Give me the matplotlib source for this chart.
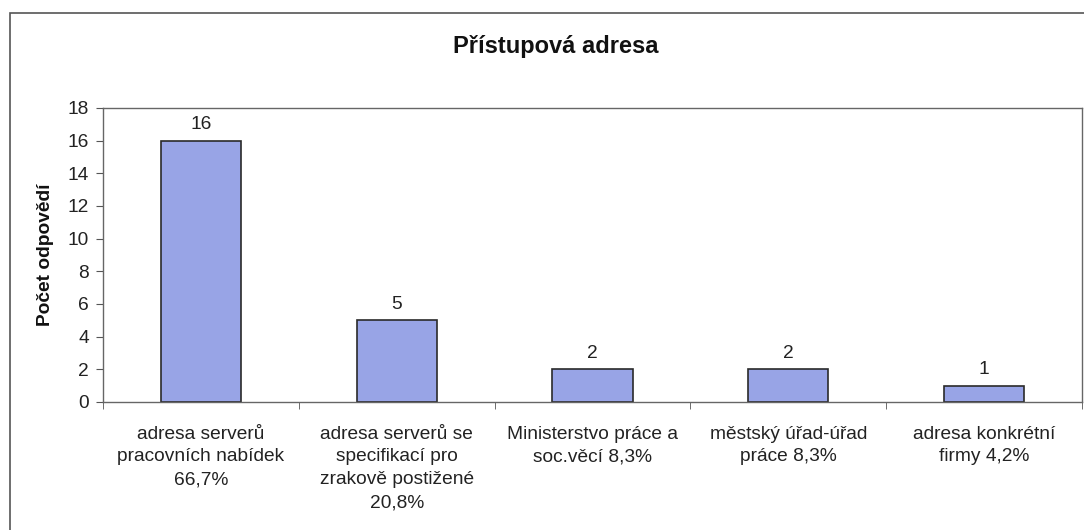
import numpy as np
import matplotlib.pyplot as plt
from matplotlib.patches import Rectangle

plt.rcParams['font.family'] = ['Liberation Sans', 'DejaVu Sans']

categories = ['adresa serverů\npracovních nabídek\n66,7%',
              'adresa serverů se\nspecifikací pro\nzrakově postižené\n20,8%',
              'Ministerstvo práce a\nsoc.věcí 8,3%',
              'městský úřad-úřad\npráce 8,3%',
              'adresa konkrétní\nfirmy 4,2%']
counts = [16, 5, 2, 2, 1]

W, H = 1084, 530
fig = plt.figure(figsize=(W / 100, H / 100), dpi=100)
ax = fig.add_axes([103 / W, 1 - 402 / H, (1082 - 103) / W, (402 - 108) / H])

# outer chart frame
fig.patches.append(Rectangle((10 / W, -0.05), 1.1, 1 - 13 / H + 0.05,
                             transform=fig.transFigure, fill=False,
                             edgecolor='#555555', linewidth=1.2))

fs = 13.8
x = np.arange(len(categories))
bars = ax.bar(x, counts, width=0.41, color='#98a4e6', edgecolor='#2a2a2a', linewidth=1.2)
for xi, c in zip(x, counts):
    ax.text(xi, c + 0.45, str(c), ha='center', va='bottom', fontsize=fs, color='#222222')

ax.set_xlim(-0.5, len(categories) - 0.5)
ax.set_ylim(0, 18)
ax.set_yticks(range(0, 19, 2))
ax.tick_params(axis='y', labelsize=fs, length=5, color='#555555', labelcolor='#222222', pad=5)

ax.set_xticks(x)
ax.set_xticklabels(categories, fontsize=fs, color='#222222', linespacing=1.45)
ax.tick_params(axis='x', length=0, pad=17)
ax.set_xticks(np.arange(-0.5, len(categories), 1), minor=True)
ax.tick_params(axis='x', which='minor', length=5, color='#555555')

for s in ax.spines.values():
    s.set_color('#666666')
    s.set_linewidth(1.0)

ax.set_ylabel('Počet odpovědí', fontsize=fs, fontweight='bold', labelpad=10, color='#111111')
fig.text(556 / W, 1 - 46 / H, 'Přístupová adresa', ha='center', va='center',
         fontsize=17, fontweight='bold', color='#111111')

fig.savefig('out.png', dpi=100)
